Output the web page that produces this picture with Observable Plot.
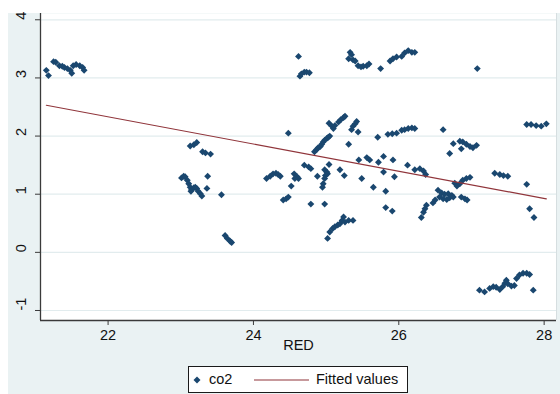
<!DOCTYPE html>
<html>
<head>
<meta charset="utf-8">
<script src="https://cdn.jsdelivr.net/npm/d3@7"></script>
<script src="https://cdn.jsdelivr.net/npm/@observablehq/plot@0.6"></script>
<style>
  html, body { margin: 0; padding: 0; background: #ffffff; }
  #wrap { position: relative; width: 560px; height: 394px; overflow: hidden; font-family: "Liberation Sans", Arial, sans-serif; }
  #bg { position: absolute; left: 8px; top: 13px; width: 552px; height: 381px; background: #EAF2F3; }
  #chart { position: absolute; left: 0; top: 0; }
  #legend { position: absolute; left: 188px; top: 366px; width: 220px; height: 27px; box-sizing: border-box; border: 1px solid #1a1a1a; background: #ffffff; }
  #legend span { position: absolute; top: 3px; font-size: 14.5px; color: #111; line-height: 18px; }
</style>
</head>
<body>
<div id="wrap"><div id="bg"></div><div id="chart"></div><div id="legend"></div></div>
<script>
// observed values: RED (x) and co2 (y)
const red = [
  21.15,21.18,21.25,21.28,21.33,21.37,21.40,21.44,21.48,21.50,21.52,21.56,21.61,21.65,21.67,
  23.13,23.18,23.22,23.30,23.34,23.41,23.37,23.01,23.04,23.06,23.09,23.11,23.13,23.15,23.14,23.18,23.20,23.22,23.24,23.27,23.29,23.36,23.56,23.61,23.64,23.68,23.70,
  24.62,24.64,24.66,24.70,24.73,24.77,25.33,25.35,25.31,25.37,25.40,25.44,25.48,25.51,25.56,25.59,25.75,25.88,25.92,25.97,
  24.48,25.04,25.08,25.10,25.12,25.17,25.20,25.24,25.26,25.35,25.37,25.40,25.42,25.44,25.31,25.71,25.85,25.91,25.97,
  24.84,24.87,24.89,24.92,24.94,24.96,24.98,25.01,25.03,25.05,25.45,25.56,25.60,25.72,25.79,25.92,25.79,25.94,
  24.70,24.76,24.79,25.04,24.98,25.01,24.99,25.02,24.98,24.96,24.95,24.88,25.19,25.25,25.49,25.65,25.82,
  24.18,24.23,24.27,24.31,24.34,24.37,24.56,24.60,24.62,24.57,24.52,24.41,24.45,24.48,24.79,24.98,25.82,25.91,
  25.02,25.05,25.09,25.12,25.16,25.19,25.22,25.24,25.26,25.31,25.37,
  26.04,26.08,26.13,26.18,26.22,27.08,26.04,26.08,26.13,26.18,26.22,26.61,
  26.75,26.84,26.88,26.93,26.98,27.02,27.07,26.86,26.70,27.76,27.82,27.89,27.96,28.03,
  26.12,26.22,26.29,26.34,26.37,27.32,27.39,27.44,27.50,27.76,27.80,27.86,
  26.77,26.80,26.84,26.88,26.93,26.98,26.54,26.59,26.63,26.68,26.73,26.56,26.61,26.66,26.70,26.75,26.86,26.91,26.94,
  26.47,26.38,26.36,26.34,26.31,26.50,
  27.11,27.18,27.25,27.30,27.34,27.39,27.43,27.46,27.48,27.50,27.55,27.59,27.62,27.66,27.71,27.76,27.80,27.85
];
const co2 = [
  3.13,3.04,3.28,3.27,3.21,3.20,3.18,3.16,3.13,3.08,3.21,3.23,3.21,3.18,3.13,
  1.83,1.85,1.89,1.73,1.71,1.69,1.31,1.28,1.31,1.30,1.24,1.18,1.12,1.08,1.05,1.11,1.12,1.10,1.05,1.01,0.97,1.10,0.99,0.29,0.24,0.19,0.17,
  3.37,3.03,3.07,3.10,3.10,3.09,3.44,3.40,3.33,3.31,3.29,3.21,3.19,3.20,3.21,3.24,3.16,3.29,3.33,3.36,
  2.05,2.22,2.17,2.13,2.18,2.24,2.28,2.32,2.34,2.11,2.17,2.21,2.25,2.07,1.86,1.98,2.03,2.04,2.05,
  1.73,1.77,1.80,1.82,1.86,1.90,1.93,1.96,1.98,2.00,1.59,1.63,1.59,1.55,1.65,1.59,1.38,1.30,
  1.50,1.47,1.44,1.51,1.42,1.38,1.32,1.35,1.27,1.18,1.12,1.31,1.42,1.32,1.27,1.12,1.05,
  1.27,1.31,1.35,1.36,1.34,1.31,1.35,1.30,1.27,1.27,1.14,0.90,0.92,0.95,0.83,0.83,0.77,0.71,
  0.24,0.35,0.41,0.44,0.47,0.49,0.55,0.61,0.52,0.55,0.55,
  3.37,3.43,3.47,3.44,3.44,3.16,2.10,2.11,2.13,2.14,2.13,2.11,
  1.87,1.91,1.90,1.86,1.82,1.80,1.84,1.78,1.70,2.20,2.20,2.18,2.17,2.21,
  1.50,1.42,1.44,1.40,1.34,1.36,1.34,1.32,1.31,1.17,0.75,0.60,
  1.19,1.14,1.18,1.24,1.27,1.29,1.07,1.02,1.00,1.01,0.98,0.95,0.92,0.91,0.94,0.95,0.95,0.92,0.90,
  0.85,0.81,0.75,0.69,0.60,0.90,
  -0.65,-0.68,-0.62,-0.59,-0.60,-0.64,-0.59,-0.53,-0.48,-0.54,-0.58,-0.57,-0.45,-0.39,-0.36,-0.36,-0.38,-0.65
];
// fitted values (linear fit endpoints)
const fitRed = [21.15, 28.03];
const fitCo2 = [2.53, 0.92];
// axis ticks and labels
const xTicks = [22, 24, 26, 28];
const yTicks = [-1, 0, 1, 2, 3, 4];
const xTitle = "RED";
const seriesNames = ["co2", "Fitted values"];

const navy = "#1A476F";
const maroon = "#90353B";
const axisColor = "#3a3a3a";

const points = red.map((r, i) => ({red: r, co2: co2[i]}));
const fit = fitRed.map((r, i) => ({red: r, co2: fitCo2[i]}));

const xDomain = [21.07, 28.17];
const yDomain = [-1.172, 4.108];

const plot = Plot.plot({
  width: 560,
  height: 360,
  marginLeft: 40,
  marginRight: 4,
  marginTop: 13,
  marginBottom: 40,
  style: {background: "transparent", fontFamily: "'Liberation Sans', Arial, sans-serif", fontSize: "14.5px", color: "#111", overflow: "visible"},
  x: {domain: xDomain},
  y: {domain: yDomain},
  marks: [
    Plot.frame({fill: "white", stroke: null}),
    Plot.gridY(yTicks, {stroke: "#E2ECEE", strokeOpacity: 1, strokeWidth: 1.2}),
    Plot.ruleX([xDomain[1]], {stroke: "#D6DEE0", strokeWidth: 1}),
    Plot.dot(points, {x: "red", y: "co2", symbol: "diamond2", r: 3.1, fill: navy, stroke: null}),
    Plot.line(fit, {x: "red", y: "co2", stroke: maroon, strokeWidth: 1.2}),
    Plot.axisX(xTicks, {tickSize: 5, tickPadding: 4, stroke: axisColor, fill: "#111", fontSize: 14.5, label: null}),
    Plot.axisY(yTicks, {tickSize: 5, tickFormat: () => "", stroke: axisColor, label: null}),
    Plot.text(yTicks, {y: d => d, frameAnchor: "left", dx: -19, rotate: -90, text: d => String(d), fontSize: 14.5, fill: "#111"}),
    Plot.text([xTitle], {frameAnchor: "bottom", dy: 29, text: d => d, fontSize: 14.5, fill: "#111"}),
    Plot.ruleX([xDomain[0]], {stroke: axisColor, strokeWidth: 1.3}),
    Plot.ruleY([yDomain[0]], {stroke: axisColor, strokeWidth: 1.3})
  ]
});
document.getElementById("chart").appendChild(plot);

// legend
const legend = document.getElementById("legend");
const sym = document.createElementNS("http://www.w3.org/2000/svg", "svg");
sym.setAttribute("width", "220"); sym.setAttribute("height", "25");
sym.style.position = "absolute"; sym.style.left = "0"; sym.style.top = "0";
sym.innerHTML = `<path d="M8,9.5 L11.5,13 L8,16.5 L4.5,13 Z" fill="${navy}"/>` +
  `<line x1="65" x2="120" y1="13" y2="13" stroke="${maroon}" stroke-width="1.2"/>`;
legend.appendChild(sym);
const t1 = document.createElement("span"); t1.textContent = seriesNames[0]; t1.style.left = "20px"; legend.appendChild(t1);
const t2 = document.createElement("span"); t2.textContent = seriesNames[1]; t2.style.left = "127px"; legend.appendChild(t2);
</script>
</body>
</html>
